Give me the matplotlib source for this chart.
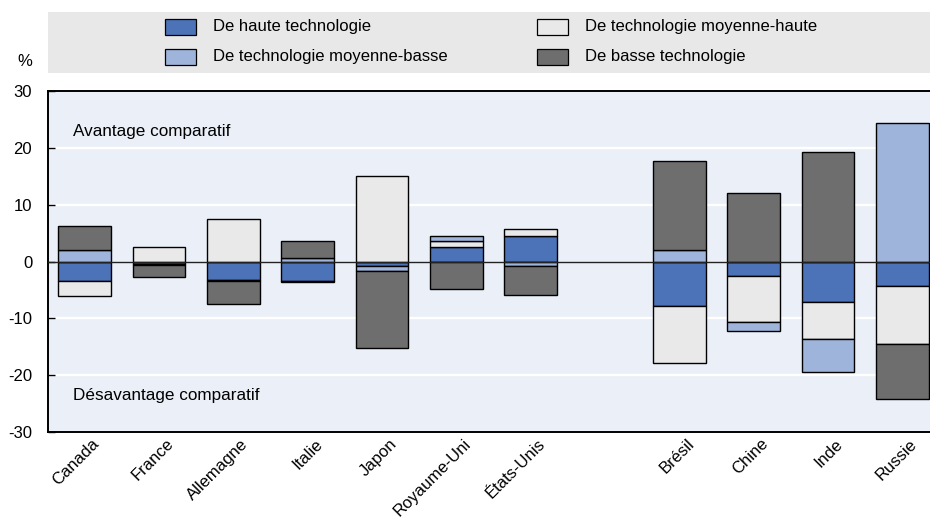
import matplotlib
matplotlib.use("Agg")
import matplotlib.pyplot as plt
import matplotlib.transforms as mtransforms
from matplotlib.patches import Rectangle
import numpy as np

plt.rcParams['font.family'] = ['Liberation Sans', 'DejaVu Sans']

countries = ['Canada', 'France', 'Allemagne', 'Italie', 'Japon', 'Royaume-Uni',
             'États-Unis', 'Brésil', 'Chine', 'Inde', 'Russie']
high = [-3.4, -0.5, -3.2, -3.4, -0.8, 2.5, 4.4, -7.9, -2.6, -7.2, -4.3]
medhigh = [-2.7, 2.6, 7.4, -0.2, 15.1, 1.1, 1.4, -9.9, -8.0, -6.5, -10.3]
medlow = [2.1, -0.1, -0.2, 0.7, -0.8, 0.8, -0.8, 2.05, -1.6, -5.8, 24.3]
low = [4.1, -2.1, -4.0, 2.9, -13.6, -4.8, -5.1, 15.6, 12.1, 19.3, -9.6]

series_names = ['De haute technologie', 'De technologie moyenne-haute',
                'De technologie moyenne-basse', 'De basse technologie']
series = [high, medhigh, medlow, low]
colors = ['#4C73B8', '#E9E9E9', '#9EB4DA', '#6E6E6E']

yticks = [-30, -20, -10, 0, 10, 20, 30]

# x positions with a gap between the G7 and the BRIC groups
n_first = 7
xpos = np.array([i if i < n_first else i + 1 for i in range(len(countries))], dtype=float)

W, H = 930, 519
fig = plt.figure(figsize=(W / 100, H / 100), dpi=100)
fig.patch.set_facecolor('white')

left_px, right_px, top_px, bot_px = 47.5, 930, 91, 432
ax = fig.add_axes([left_px / W, 1 - bot_px / H, (right_px - left_px) / W, (bot_px - top_px) / H])
ax.set_facecolor('#EBF0F8')

slot = (902.5 - 84.8) / 11
ax.set_xlim(-0.5, -0.5 + (right_px - left_px) / slot)
ax.set_ylim(-30, 30)

for yv in [-20, -10, 10, 20]:
    ax.axhline(yv, color='white', lw=1.6, zorder=1)

pos_base = np.zeros(len(countries))
neg_base = np.zeros(len(countries))
for vals, col in zip(series, colors):
    v = np.array(vals, dtype=float)
    bottoms = np.where(v >= 0, pos_base, neg_base)
    ax.bar(xpos, v, bottom=bottoms, width=0.71, color=col, edgecolor='black',
           linewidth=1.0, zorder=3)
    pos_base = pos_base + np.where(v >= 0, v, 0)
    neg_base = neg_base + np.where(v < 0, v, 0)

ax.axhline(0, color='#222222', lw=1.0, zorder=4)

for side in ['left', 'top', 'bottom']:
    ax.spines[side].set_color('black')
    ax.spines[side].set_linewidth(1.4)
ax.spines['right'].set_visible(False)

ax.set_yticks(yticks)
ax.set_yticklabels([str(t) for t in yticks])
ax.tick_params(axis='y', direction='in', length=5, width=1, pad=11, labelsize=12)
ax.set_xticks(xpos)
ax.set_xticklabels(countries, rotation=45, ha='right', va='top', rotation_mode='anchor',
                   fontsize=12)
ax.tick_params(axis='x', length=0, pad=3)
offset = mtransforms.ScaledTranslation(7 / 100, 0, fig.dpi_scale_trans)
for lbl in ax.get_xticklabels():
    lbl.set_transform(lbl.get_transform() + offset)

tx = ax.get_yaxis_transform()
ax.text((73 - left_px) / (right_px - left_px), 22.9, 'Avantage comparatif',
        transform=tx, ha='left', va='center', fontsize=12.3)
ax.text((73 - left_px) / (right_px - left_px), -23.5, 'Désavantage comparatif',
        transform=tx, ha='left', va='center', fontsize=12.3)

# legend band
fig.patches.append(Rectangle((48 / W, 1 - 73 / H), (930 - 48) / W, 61 / H,
                             transform=fig.transFigure, facecolor='#E8E8E8',
                             edgecolor='none', zorder=0))
leg_pos = [(165, 27), (537, 27), (165, 57), (537, 57)]
for (px, py), name, col in zip(leg_pos, series_names, colors):
    fig.patches.append(Rectangle((px / W, 1 - (py + 8) / H), 31 / W, 16 / H,
                                 transform=fig.transFigure, facecolor=col,
                                 edgecolor='black', linewidth=0.9, zorder=2))
    fig.text((px + 48) / W, 1 - py / H, name, ha='left', va='center', fontsize=12)

fig.text(25 / W, 1 - 62 / H, '%', ha='center', va='center', fontsize=12)

fig.savefig('out.png', dpi=100)
